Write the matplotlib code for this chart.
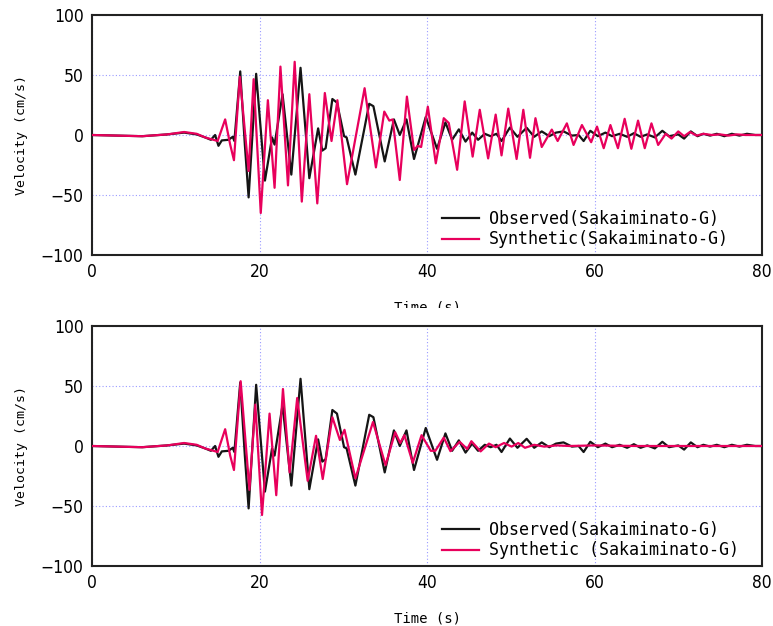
import matplotlib
matplotlib.use("Agg")
import matplotlib.pyplot as plt
from matplotlib import font_manager
from matplotlib.patches import Rectangle

# ---- data: velocity waveforms (time in s, velocity in cm/s) ----
obs_t = [0, 3, 6, 9, 11, 12.5, 13.5, 14.2, 14.7, 15.1, 15.5, 16.3, 16.8, 17.0,
         17.7, 18.25, 18.7, 19.6, 20.65, 21.5, 21.8, 22.75, 23.8, 24.9, 25.95,
         27.0, 27.5, 27.9, 28.7, 29.25, 30.1, 30.4, 31.45, 33.1, 33.6, 34.95,
         36.05, 36.75, 37.55, 38.45, 39.85, 41.2, 42.2, 43.0, 43.8, 44.6, 45.4,
         46.1, 46.9, 47.6, 48.3, 48.9, 49.9, 50.8, 51.9, 52.8, 53.7, 54.6, 55.4,
         56.3, 57.3, 58.1, 58.7, 59.5, 60.4, 61.3, 62.1, 63.0, 63.9, 64.7, 65.5,
         66.3, 67.2, 68.1, 68.9, 70.0, 70.7, 71.5, 72.3, 73.0, 73.8, 74.6, 75.5,
         76.4, 77.3, 78.2, 79.2, 80]
obs_v = [0, -0.5, -1, 0.5, 2, 0.5, -2, -4, 0, -9, -4.5, -4, -1.5, -5,
         53, -8, -52, 51, -38, -2, -8, 34, -33, 56, -36,
         5.5, -13, -11, 30, 27, -1, -2, -33, 26, 24, -22,
         13, 0, 13, -20, 15, -11.5, 10.5, -4, 4.7, -5.5, 2,
         -4, 1, -1, 1, -5, 6.2, -1.5, 6, -1.5, 3, -1, 2,
         3, -0.5, 0, -5, 3.5, -1, 2, -1, 1, -1.5, 1.5, -1.5,
         0.5, -2, 3.5, -1, 0.5, -3, 3, -1, 1, -0.5, 1, -1,
         1, -0.5, 1, 0, 0]

syn1_t = [0, 3, 6, 9, 11, 12.5, 13.5, 14.5, 15.0, 15.9, 16.5, 16.95, 17.65,
          18.7, 19.3, 20.15, 21.0, 21.8, 22.5, 23.4, 24.2, 25.05, 25.95, 26.9,
          27.8, 28.6, 29.3, 30.45, 32.55, 33.9, 34.9, 35.5, 35.9, 36.75, 37.6,
          38.45, 38.9, 39.3, 40.1, 41.05, 42.0, 42.6, 43.6, 44.5, 45.45, 46.3,
          47.3, 48.2, 48.9, 49.7, 50.7, 51.5, 52.3, 52.95, 53.7, 54.9, 55.6,
          56.7, 57.5, 58.5, 59.6, 60.3, 61.1, 61.9, 62.8, 63.6, 64.4, 65.2,
          66.0, 66.8, 67.6, 68.5, 69.2, 70.0, 70.7, 71.4, 72.2, 73.0, 74, 75,
          76, 77, 78, 80]
syn1_v = [0, -0.5, -1, 0.5, 2.5, 1, -2, -4, -5, 13, -8, -21, 48.5,
          -30, 46.5, -65, 29, -44, 57, -42, 61, -55.5, 34, -57,
          35, -5, 29, -41, 39, -27, 19.5, 12, 13, -37.5, 32,
          -12.5, -9, -10, 23.6, -23.6, 14, 10, -29, 28, -18, 21,
          -19.5, 17, -17, 22, -20, 21, -19, 14, -10, 4.5, -5,
          9.7, -8.3, 8.3, -6, 7, -11, 8.3, -11, 13.5, -11.5, 12,
          -11, 9.7, -8.3, 1, -3, 3, -1, 2.5, -0.5, 1, 0, 0.5,
          -0.5, 0.5, 0, 0]

syn2_t = [0, 3, 6, 9, 11, 12.5, 13.5, 14.5, 15.0, 15.9, 16.5, 16.95, 17.75,
          18.8, 19.5, 20.3, 21.2, 22.0, 22.8, 23.6, 24.5, 25.75, 26.75, 27.55,
          28.7, 29.6, 30.15, 31.45, 33.55, 35.05, 36.2, 36.8, 37.3, 38.3, 39.35,
          40.45, 41.0, 42.0, 42.8, 43.9, 44.8, 45.3, 46.4, 47.4, 48.2, 49.2,
          50.1, 50.9, 51.7, 52.8, 54, 55.5, 57, 60, 65, 70, 75, 80]
syn2_v = [0, -0.5, -1, 0.5, 2.5, 1, -2, -4, -5, 14, -8, -20, 54,
          -36.5, 34.5, -57.5, 27, -41, 47.5, -22, 40, -29, 8.5, -27.5,
          24, 5, 13.5, -27, 20, -16, 11.5, 2.5, 9, -14, 9,
          -4, -4, 7, -4.3, 3.5, -2.5, 4, -4.5, 2, -1, 2.5,
          -0.5, 2.5, -1.5, 1, -0.5, 0.5, 0, 0.5, 0, 0, 0, 0]

x_ticks = [0, 20, 40, 60, 80]
y_ticks = [-100, -50, 0, 50, 100]
y_tick_labels = ["\u2212100", "\u221250", "0", "50", "100"]

obs_label = "Observed(Sakaiminato-G)"
syn_labels = ["Synthetic(Sakaiminato-G)", "Synthetic (Sakaiminato-G)"]

# ---- styling ----
condensed = any(f.name == "DejaVu Sans" and "condensed" in str(f.stretch)
                for f in font_manager.fontManager.ttflist)
tick_font = {"family": "DejaVu Sans"}
if condensed:
    tick_font["stretch"] = "condensed"
mono_font = "DejaVu Sans Mono"

BLACK = "#151515"
RED = "#e8005c"
GRID = "#9a9aff"

W, H = 773, 626
fig = plt.figure(figsize=(W / 100, H / 100), dpi=100)

def frac_box(left, top, right, bottom):
    return [left / W, 1 - bottom / H, (right - left) / W, (bottom - top) / H]

panels = [
    (frac_box(92, 15, 762, 255), syn1_t, syn1_v, syn_labels[0]),
    (frac_box(92, 326, 762, 566), syn2_t, syn2_v, syn_labels[1]),
]

for box, st, sv, slabel in panels:
    ax = fig.add_axes(box)
    ax.plot(obs_t, obs_v, color=BLACK, lw=1.6, label=obs_label,
            solid_joinstyle="round", zorder=3)
    ax.plot(st, sv, color=RED, lw=1.6, label=slabel,
            solid_joinstyle="round", zorder=4)
    ax.set_xlim(0, 80)
    ax.set_ylim(-100, 100)
    ax.set_xticks(x_ticks)
    ax.set_yticks(y_ticks)
    ax.set_yticklabels(y_tick_labels)
    ax.tick_params(length=0, pad=6, labelsize=12.5)
    for lab in ax.get_xticklabels() + ax.get_yticklabels():
        lab.set_fontfamily(tick_font["family"])
        if "stretch" in tick_font:
            lab.set_fontstretch(tick_font["stretch"])
    ax.grid(True, color=GRID, ls=(0, (1, 2)), lw=0.8, zorder=1)
    for sp in ax.spines.values():
        sp.set_linewidth(1.5)
        sp.set_color("#222222")
    ax.set_ylabel("Velocity (cm/s)", family=mono_font, fontsize=9.5, labelpad=9)
    ax.set_xlabel("Time (s)", family=mono_font, fontsize=10, labelpad=14)
    ax.legend(loc="lower left", bbox_to_anchor=(0.5, -0.035),
              frameon=False, handlelength=2.2, handletextpad=0.6,
              labelspacing=0.15, prop={"family": mono_font, "size": 12})

# the upper figure's x-label sits right at the seam between the two panels
fig.add_artist(Rectangle((0, 1 - 318 / H), 1, 10 / H, transform=fig.transFigure,
                         facecolor="white", edgecolor="none", zorder=10))

fig.savefig("out.png", dpi=100, facecolor="white")
